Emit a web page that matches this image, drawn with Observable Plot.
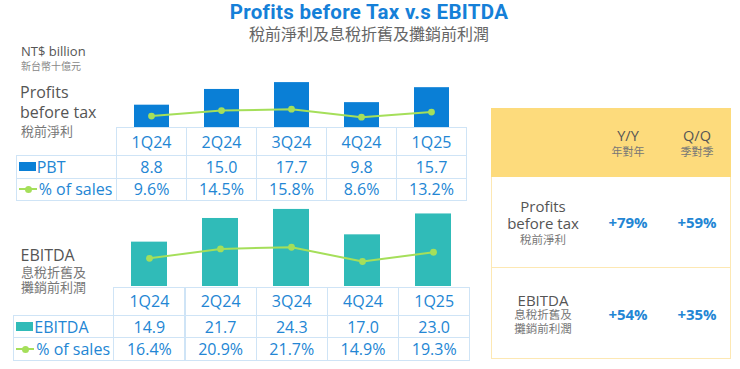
<!DOCTYPE html>
<html>
<head>
<meta charset="utf-8">
<script src="https://cdn.jsdelivr.net/npm/d3@7"></script>
<script src="https://cdn.jsdelivr.net/npm/@observablehq/plot@0.6"></script>
<style>
  html, body { margin: 0; padding: 0; background: #fff; }
  #root { position: relative; width: 740px; height: 369px; overflow: hidden; background: #fff;
          font-family: "Open Sans", "Noto Sans CJK TC", sans-serif; }
  .t { position: absolute; line-height: 1; white-space: nowrap; }
  .cjk { font-family: "Noto Sans CJK TC", sans-serif; }
  .cell { position: absolute; box-sizing: border-box; border: 1px solid #cfe4f6;
          display: flex; align-items: center; justify-content: center;
          color: #2386d4; font-size: 16px; line-height: 1; white-space: nowrap; }
  .abs { position: absolute; }
</style>
</head>
<body>
<div id="root"></div>
<script>
// ---------- data ----------
const quarters = ["1Q24", "2Q24", "3Q24", "4Q24", "1Q25"];
const pbt = [8.8, 15.0, 17.7, 9.8, 15.7];
const pbtPct = [9.6, 14.5, 15.8, 8.6, 13.2];
const ebitda = [14.9, 21.7, 24.3, 17.0, 23.0];
const ebitdaPct = [16.4, 20.9, 21.7, 14.9, 19.3];
const changeRows = ["Profits before tax", "EBITDA"];
const yoy = ["+79%", "+54%"];
const qoq = ["+59%", "+35%"];

const BLUE = "#0a7fd6", TEAL = "#30bbb8", GREEN = "#a5df5a", TXT = "#2386d4";

const root = document.getElementById("root");

// single or multi-line text; cy = centre of the first line, lh = line spacing
function txt(str, x, cy, size, opts = {}) {
  const d = document.createElement("div");
  d.className = "t" + (opts.cjk ? " cjk" : "");
  const lh = opts.lh || size;
  d.style.lineHeight = lh + "px";
  d.innerHTML = str.split("\n").map(s => s.replace(/&/g, "&amp;").replace(/</g, "&lt;")).join("<br>");
  d.style.fontSize = size + "px";
  d.style.top = (cy - lh / 2) + "px";
  d.style.left = x + "px";
  if (opts.center) { d.style.transform = "translateX(-50%)"; d.style.textAlign = "center"; }
  d.style.color = opts.color || "#555";
  if (opts.weight) d.style.fontWeight = opts.weight;
  if (opts.family) d.style.fontFamily = opts.family;
  if (opts.ls) d.style.letterSpacing = opts.ls + "px";
  root.appendChild(d);
  return d;
}
function box(x, y, w, h, style = {}) {
  const d = document.createElement("div");
  d.className = "abs";
  Object.assign(d.style, {left: x + "px", top: y + "px", width: w + "px", height: h + "px", boxSizing: "border-box"}, style);
  root.appendChild(d);
  return d;
}
function cell(x, y, w, h, content) {
  const d = document.createElement("div");
  d.className = "cell";
  Object.assign(d.style, {left: x + "px", top: y + "px", width: (w + 1) + "px", height: (h + 1) + "px"});
  if (typeof content === "string") d.textContent = content;
  else d.appendChild(content);
  root.appendChild(d);
  return d;
}
function legendLabel(kind, color, label) {
  const wrap = document.createElement("div");
  Object.assign(wrap.style, {display: "flex", alignItems: "center", width: "100%", paddingLeft: "2px", boxSizing: "border-box"});
  const sw = document.createElement("span");
  if (kind === "bar") {
    Object.assign(sw.style, {display: "inline-block", width: "17px", height: "9px", background: color, marginRight: "1px"});
  } else {
    Object.assign(sw.style, {display: "inline-block", width: "18px", height: "2px", background: color, position: "relative", marginRight: "2px"});
    const dot = document.createElement("span");
    Object.assign(dot.style, {position: "absolute", left: "6px", top: "-2.5px", width: "7px", height: "7px", borderRadius: "50%", background: color});
    sw.appendChild(dot);
  }
  const t = document.createElement("span");
  t.textContent = label;
  wrap.appendChild(sw); wrap.appendChild(t);
  return wrap;
}

// ---------- titles ----------
txt("Profits before Tax v.s EBITDA", 369, 12, 20.5, {center: true, color: "#1580d8", weight: 700,
    family: "Roboto, sans-serif", ls: 0.3});
txt("稅前淨利及息稅折舊及攤銷前利潤", 369, 33, 16, {center: true, color: "#666", cjk: true});
txt("NT$ billion", 21, 51.5, 13, {color: "#555"});
txt("新台幣十億元", 21, 65.5, 10, {color: "#888", cjk: true});

txt("Profits\nbefore tax", 20, 93, 16, {lh: 19.5});
txt("稅前淨利", 21, 130, 13, {color: "#777", cjk: true});

txt("EBITDA", 20.5, 255, 16);
txt("息稅折舊及\n攤銷前利潤", 21, 271.7, 13, {color: "#777", cjk: true, lh: 15.6});

// ---------- charts ----------
function chart({left, top, width, height, values, pcts, color, barDomain, lineDomain, lineRange}) {
  const data = quarters.map((q, i) => ({q, v: values[i], p: pcts[i]}));
  const bars = Plot.plot({
    width, height, margin: 0,
    style: {background: "transparent", overflow: "visible"},
    x: {type: "band", domain: quarters, range: [0, width], paddingInner: 0.5, paddingOuter: 0.25, axis: null},
    y: {domain: barDomain, axis: null},
    marks: [Plot.barY(data, {x: "q", y1: () => barDomain[0], y2: "v", fill: color})]
  });
  const line = Plot.plot({
    width, height, margin: 0,
    style: {background: "transparent", overflow: "visible"},
    x: {type: "point", domain: quarters, range: [0, width], padding: 0.5, axis: null},
    y: {domain: lineDomain, range: lineRange, axis: null},
    marks: [
      Plot.lineY(data, {x: "q", y: "p", stroke: GREEN, strokeWidth: 2}),
      Plot.dot(data, {x: "q", y: "p", r: 3.4, fill: GREEN})
    ]
  });
  for (const svg of [bars, line]) {
    const holder = box(left, top, width, height);
    holder.appendChild(svg);
    svg.style.position = "absolute"; svg.style.left = "0"; svg.style.top = "0";
  }
}

chart({left: 116, top: 75, width: 350, height: 52, values: pbt, pcts: pbtPct, color: BLUE,
       barDomain: [0, 20.5], lineDomain: [0, 46.1], lineRange: [51.2, 0]});
chart({left: 113.3, top: 205, width: 356, height: 81, values: ebitda, pcts: ebitdaPct, color: TEAL,
       barDomain: [2.15, 25.43], lineDomain: [0, 41.57], lineRange: [87.3, 0]});

// ---------- data tables ----------
function table({x0, labelX, colW, yHead, hHead, yR1, hR1, yR2, hR2, label, color, values, pcts}) {
  quarters.forEach((q, i) => cell(x0 + i * colW, yHead, colW, hHead, q));
  cell(labelX, yR1, x0 - labelX, hR1, legendLabel("bar", color, label));
  cell(labelX, yR2, x0 - labelX, hR2, legendLabel("line", GREEN, "% of sales"));
  values.forEach((v, i) => cell(x0 + i * colW, yR1, colW, hR1, v.toFixed(1)));
  pcts.forEach((p, i) => cell(x0 + i * colW, yR2, colW, hR2, p.toFixed(1) + "%"));
}
table({x0: 116, labelX: 15.7, colW: 70, yHead: 127, hHead: 28, yR1: 155, hR1: 22.5, yR2: 177.5, hR2: 22.5,
       label: "PBT", color: BLUE, values: pbt, pcts: pbtPct});
table({x0: 113.3, labelX: 13.3, colW: 71.2, yHead: 286.7, hHead: 28.3, yR1: 315, hR1: 22.3, yR2: 337.3, hR2: 22.7,
       label: "EBITDA", color: TEAL, values: ebitda, pcts: ebitdaPct});

// ---------- change table ----------
box(491, 108, 240, 69, {background: "#fddb7c"});
box(491, 177, 240, 91, {border: "1.5px solid #fde8b3", borderTop: "none"});
box(491, 267, 240, 92, {border: "1.5px solid #fde8b3", borderTop: "none"});
txt("Y/Y", 628, 136, 14.5, {center: true, color: "#555"});
txt("年對年", 628, 151, 11, {center: true, color: "#777", cjk: true});
txt("Q/Q", 697, 136, 14.5, {center: true, color: "#555"});
txt("季對季", 697, 151, 11, {center: true, color: "#777", cjk: true});

txt("Profits\nbefore tax", 543, 206.5, 15, {center: true, lh: 17.2});
txt("稅前淨利", 543, 240, 11.5, {center: true, color: "#777", cjk: true});
txt("EBITDA", 543, 300, 15, {center: true});
txt("息稅折舊及\n攤銷前利潤", 543, 315, 11.5, {center: true, color: "#777", cjk: true, lh: 13.5});

const rowCenters = [222.5, 314];
changeRows.forEach((r, i) => {
  txt(yoy[i], 628, rowCenters[i], 15, {center: true, color: TXT, weight: 700});
  txt(qoq[i], 697, rowCenters[i], 15, {center: true, color: TXT, weight: 700});
});
</script>
</body>
</html>
